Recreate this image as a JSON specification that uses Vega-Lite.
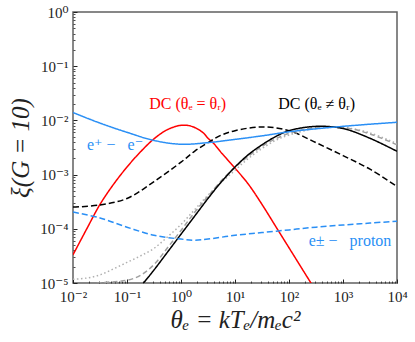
{
  "$schema": "https://vega.github.io/schema/vega-lite/v6.json",
  "width": 324,
  "height": 271,
  "autosize": {"type": "none"},
  "padding": {"left": 73, "top": 12, "right": 18, "bottom": 59},
  "config": {
    "view": {"stroke": "#606060", "strokeWidth": 1.5},
    "font": "Liberation Serif, DejaVu Serif, serif"
  },
  "resolve": {"axis": {"x": "independent", "y": "independent"}},
  "layer": [
    {
      "data": {"values": [
        {"s": "red", "x": 0.01, "y": 3.311e-5},
        {"s": "red", "x": 0.01778, "y": 9.772e-5},
        {"s": "red", "x": 0.03162, "y": 2.818e-4},
        {"s": "red", "x": 0.05623, "y": 6.607e-4},
        {"s": "red", "x": 0.1, "y": 1.380e-3},
        {"s": "red", "x": 0.1778, "y": 2.630e-3},
        {"s": "red", "x": 0.3162, "y": 4.571e-3},
        {"s": "red", "x": 0.5623, "y": 6.761e-3},
        {"s": "red", "x": 1, "y": 8.128e-3},
        {"s": "red", "x": 1.585, "y": 7.762e-3},
        {"s": "red", "x": 2.512, "y": 6.026e-3},
        {"s": "red", "x": 3.162, "y": 4.677e-3},
        {"s": "red", "x": 3.981, "y": 3.802e-3},
        {"s": "red", "x": 5.623, "y": 2.512e-3},
        {"s": "red", "x": 10, "y": 1.318e-3},
        {"s": "red", "x": 17.78, "y": 6.607e-4},
        {"s": "red", "x": 31.62, "y": 2.818e-4},
        {"s": "red", "x": 56.23, "y": 1.122e-4},
        {"s": "red", "x": 100, "y": 4.467e-5},
        {"s": "red", "x": 177.8, "y": 1.778e-5},
        {"s": "red", "x": 316.2, "y": 7.079e-6},

        {"s": "bdash", "x": 0.01, "y": 2.512e-4},
        {"s": "bdash", "x": 0.03162, "y": 2.754e-4},
        {"s": "bdash", "x": 0.1, "y": 3.631e-4},
        {"s": "bdash", "x": 0.3162, "y": 7.413e-4},
        {"s": "bdash", "x": 1, "y": 1.698e-3},
        {"s": "bdash", "x": 1.778, "y": 2.692e-3},
        {"s": "bdash", "x": 3.162, "y": 3.890e-3},
        {"s": "bdash", "x": 5.623, "y": 5.370e-3},
        {"s": "bdash", "x": 10, "y": 6.457e-3},
        {"s": "bdash", "x": 31.62, "y": 7.586e-3},
        {"s": "bdash", "x": 100, "y": 6.457e-3},
        {"s": "bdash", "x": 316.2, "y": 3.890e-3},
        {"s": "bdash", "x": 1000, "y": 2.239e-3},
        {"s": "bdash", "x": 3162, "y": 1.259e-3},
        {"s": "bdash", "x": 10000, "y": 6.026e-4},

        {"s": "gdot", "x": 0.01, "y": 1.175e-5},
        {"s": "gdot", "x": 0.01778, "y": 1.230e-5},
        {"s": "gdot", "x": 0.03162, "y": 1.413e-5},
        {"s": "gdot", "x": 0.05623, "y": 1.820e-5},
        {"s": "gdot", "x": 0.1, "y": 2.399e-5},
        {"s": "gdot", "x": 0.1778, "y": 3.162e-5},
        {"s": "gdot", "x": 0.3162, "y": 4.365e-5},
        {"s": "gdot", "x": 0.5623, "y": 7.079e-5},
        {"s": "gdot", "x": 1, "y": 1.202e-4},
        {"s": "gdot", "x": 1.778, "y": 2.239e-4},
        {"s": "gdot", "x": 3.162, "y": 4.169e-4},
        {"s": "gdot", "x": 5.623, "y": 7.244e-4},
        {"s": "gdot", "x": 10, "y": 1.202e-3},
        {"s": "gdot", "x": 17.78, "y": 1.995e-3},
        {"s": "gdot", "x": 31.62, "y": 3.020e-3},
        {"s": "gdot", "x": 56.23, "y": 4.266e-3},
        {"s": "gdot", "x": 100, "y": 5.370e-3},
        {"s": "gdot", "x": 316.2, "y": 7.079e-3},
        {"s": "gdot", "x": 1000, "y": 7.413e-3},
        {"s": "gdot", "x": 3162, "y": 5.888e-3},
        {"s": "gdot", "x": 10000, "y": 3.715e-3},

        {"s": "gdash", "x": 0.01, "y": 7.943e-6},
        {"s": "gdash", "x": 0.03162, "y": 1.0e-5},
        {"s": "gdash", "x": 0.1, "y": 1.122e-5},
        {"s": "gdash", "x": 0.1778, "y": 1.380e-5},
        {"s": "gdash", "x": 0.3162, "y": 2.188e-5},
        {"s": "gdash", "x": 0.5623, "y": 4.467e-5},
        {"s": "gdash", "x": 1, "y": 9.333e-5},
        {"s": "gdash", "x": 1.778, "y": 1.995e-4},
        {"s": "gdash", "x": 3.162, "y": 3.981e-4},
        {"s": "gdash", "x": 5.623, "y": 7.762e-4},
        {"s": "gdash", "x": 10, "y": 1.349e-3},
        {"s": "gdash", "x": 17.78, "y": 2.188e-3},
        {"s": "gdash", "x": 31.62, "y": 3.311e-3},
        {"s": "gdash", "x": 56.23, "y": 4.571e-3},
        {"s": "gdash", "x": 100, "y": 5.754e-3},
        {"s": "gdash", "x": 316.2, "y": 7.413e-3},
        {"s": "gdash", "x": 1000, "y": 7.413e-3},
        {"s": "gdash", "x": 3162, "y": 5.623e-3},
        {"s": "gdash", "x": 10000, "y": 3.548e-3},

        {"s": "bsolid", "x": 0.1778, "y": 8.511e-6},
        {"s": "bsolid", "x": 0.3162, "y": 1.738e-5},
        {"s": "bsolid", "x": 0.5623, "y": 3.715e-5},
        {"s": "bsolid", "x": 1, "y": 7.943e-5},
        {"s": "bsolid", "x": 1.778, "y": 1.698e-4},
        {"s": "bsolid", "x": 3.162, "y": 3.631e-4},
        {"s": "bsolid", "x": 5.623, "y": 7.413e-4},
        {"s": "bsolid", "x": 10, "y": 1.380e-3},
        {"s": "bsolid", "x": 17.78, "y": 2.344e-3},
        {"s": "bsolid", "x": 31.62, "y": 3.548e-3},
        {"s": "bsolid", "x": 56.23, "y": 5.012e-3},
        {"s": "bsolid", "x": 100, "y": 6.457e-3},
        {"s": "bsolid", "x": 316.2, "y": 7.762e-3},
        {"s": "bsolid", "x": 1000, "y": 7.079e-3},
        {"s": "bsolid", "x": 3162, "y": 4.677e-3},
        {"s": "bsolid", "x": 10000, "y": 2.692e-3},

        {"s": "ee", "x": 0.01, "y": 1.396e-2},
        {"s": "ee", "x": 0.03162, "y": 8.913e-3},
        {"s": "ee", "x": 0.1, "y": 6.026e-3},
        {"s": "ee", "x": 0.3162, "y": 4.266e-3},
        {"s": "ee", "x": 1, "y": 3.631e-3},
        {"s": "ee", "x": 3.162, "y": 3.890e-3},
        {"s": "ee", "x": 10, "y": 4.467e-3},
        {"s": "ee", "x": 31.62, "y": 5.188e-3},
        {"s": "ee", "x": 100, "y": 6.166e-3},
        {"s": "ee", "x": 316.2, "y": 6.998e-3},
        {"s": "ee", "x": 1000, "y": 7.762e-3},
        {"s": "ee", "x": 3162, "y": 8.511e-3},
        {"s": "ee", "x": 10000, "y": 9.226e-3},

        {"s": "ep", "x": 0.01, "y": 2.042e-4},
        {"s": "ep", "x": 0.03162, "y": 1.585e-4},
        {"s": "ep", "x": 0.1, "y": 1.072e-4},
        {"s": "ep", "x": 0.3162, "y": 7.586e-5},
        {"s": "ep", "x": 1, "y": 6.457e-5},
        {"s": "ep", "x": 1.778, "y": 6.166e-5},
        {"s": "ep", "x": 3.162, "y": 6.457e-5},
        {"s": "ep", "x": 10, "y": 7.586e-5},
        {"s": "ep", "x": 31.62, "y": 8.511e-5},
        {"s": "ep", "x": 100, "y": 9.550e-5},
        {"s": "ep", "x": 316.2, "y": 1.072e-4},
        {"s": "ep", "x": 1000, "y": 1.175e-4},
        {"s": "ep", "x": 3162, "y": 1.274e-4},
        {"s": "ep", "x": 10000, "y": 1.380e-4}
      ]},
      "mark": {"type": "line", "clip": true, "strokeWidth": 1.5, "interpolate": "catmull-rom"},
      "encoding": {
        "x": {
          "field": "x", "type": "quantitative",
          "scale": {"type": "log", "domain": [0.01, 10000], "nice": false},
          "axis": {
            "orient": "bottom",
            "values": [0.01, 0.1, 1, 10, 100, 1000, 10000],
            "labelExpr": "['10⁻²','10⁻¹','10⁰','10¹','10²','10³','10⁴'][round(log(datum.value)/LN10)+2]",
            "domain": false, "grid": false,
            "tickSize": -4, "tickColor": "#222", "tickWidth": 1,
            "labelFont": "Liberation Serif, DejaVu Serif, serif", "labelFontSize": 15, "labelColor": "#222",
            "labelPadding": 10, "labelFlush": false,
            "title": "θₑ = kTₑ/mₑc²", "titleFont": "Liberation Serif, DejaVu Serif, serif", "titleFontSize": 25,
            "titleFontStyle": "italic", "titleFontWeight": "normal", "titleColor": "#222", "titlePadding": 3
          }
        },
        "y": {
          "field": "y", "type": "quantitative",
          "scale": {"type": "log", "domain": [1e-5, 1], "nice": false},
          "axis": {
            "orient": "left",
            "values": [1e-5, 1e-4, 1e-3, 1e-2, 1e-1, 1],
            "labelExpr": "['10⁻⁵','10⁻⁴','10⁻³','10⁻²','10⁻¹','10⁰'][round(log(datum.value)/LN10)+5]",
            "domain": false, "grid": false,
            "tickSize": -4, "tickColor": "#222", "tickWidth": 1,
            "labelFont": "Liberation Serif, DejaVu Serif, serif", "labelFontSize": 15, "labelColor": "#222",
            "labelPadding": 9, "labelFlush": false,
            "title": "ξ(G = 10)", "titleFont": "Liberation Serif, DejaVu Serif, serif", "titleFontSize": 25,
            "titleFontStyle": "italic", "titleFontWeight": "normal", "titleColor": "#222", "titlePadding": 6
          }
        },
        "color": {
          "field": "s", "type": "nominal", "legend": null,
          "scale": {
            "domain": ["red", "bdash", "gdot", "gdash", "bsolid", "ee", "ep"],
            "range": ["#ff0000", "#000000", "#b0b0b0", "#a0a0a0", "#000000", "#2a8ff5", "#2a8ff5"]
          }
        },
        "strokeDash": {
          "field": "s", "type": "nominal", "legend": null,
          "scale": {
            "domain": ["red", "bdash", "gdot", "gdash", "bsolid", "ee", "ep"],
            "range": [[1, 0], [6, 3], [1.5, 2.5], [5, 3], [1, 0], [1, 0], [6, 3]]
          }
        }
      }
    },
    {
      "data": {"values": [
        {"s": "red", "label": "DC (θₑ = θᵣ)", "x": 1.33, "y": 0.0202},
        {"s": "bsolid", "label": "DC (θₑ ≠ θᵣ)", "x": 324, "y": 0.0202},
        {"s": "ee", "label": "e⁺ − \u2002e⁻", "x": 0.06, "y": 0.00355},
        {"s": "ep", "label": "e± − \u2002proton", "x": 1350, "y": 6.0e-5}
      ]},
      "mark": {"type": "text", "font": "Liberation Serif, DejaVu Serif, serif", "fontSize": 16, "align": "center", "baseline": "middle"},
      "encoding": {
        "x": {
          "field": "x", "type": "quantitative",
          "scale": {"type": "log", "domain": [0.01, 10000], "nice": false},
          "axis": {
            "orient": "bottom",
            "values": [0.02,0.03,0.04,0.05,0.06,0.07,0.08,0.09,0.2,0.3,0.4,0.5,0.6,0.7,0.8,0.9,2,3,4,5,6,7,8,9,20,30,40,50,60,70,80,90,200,300,400,500,600,700,800,900,2000,3000,4000,5000,6000,7000,8000,9000],
            "labels": false, "domain": false, "grid": false, "title": null,
            "tickSize": -2, "tickColor": "#222", "tickWidth": 0.8
          }
        },
        "y": {
          "field": "y", "type": "quantitative",
          "scale": {"type": "log", "domain": [1e-5, 1], "nice": false},
          "axis": {
            "orient": "left",
            "values": [2e-5,3e-5,4e-5,5e-5,6e-5,7e-5,8e-5,9e-5,2e-4,3e-4,4e-4,5e-4,6e-4,7e-4,8e-4,9e-4,0.002,0.003,0.004,0.005,0.006,0.007,0.008,0.009,0.02,0.03,0.04,0.05,0.06,0.07,0.08,0.09,0.2,0.3,0.4,0.5,0.6,0.7,0.8,0.9],
            "labels": false, "domain": false, "grid": false, "title": null,
            "tickSize": -2, "tickColor": "#222", "tickWidth": 0.8
          }
        },
        "text": {"field": "label"},
        "color": {"field": "s", "type": "nominal", "legend": null}
      }
    }
  ]
}
